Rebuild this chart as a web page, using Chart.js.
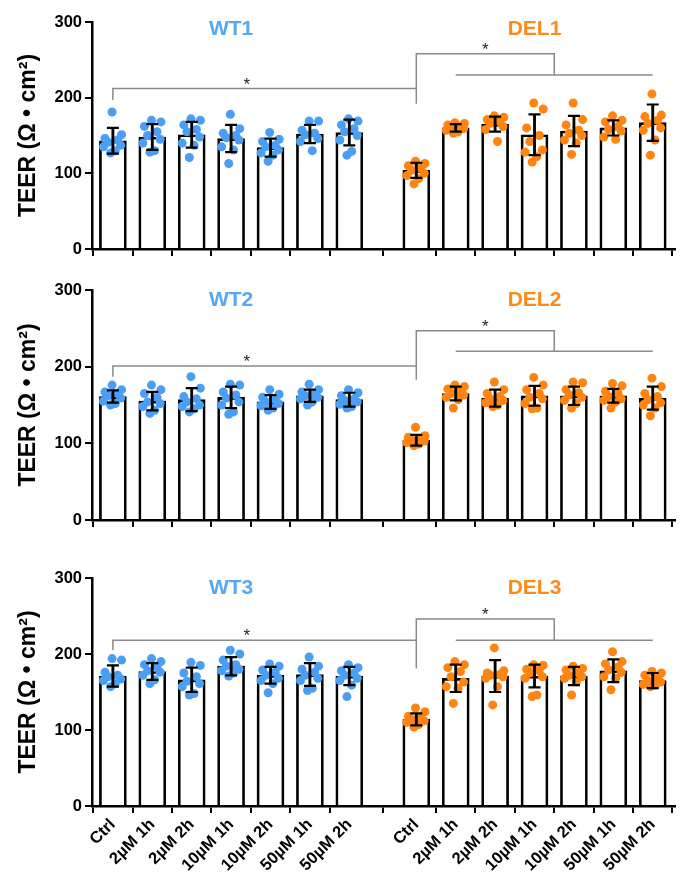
<!DOCTYPE html>
<html><head><meta charset="utf-8">
<script src="https://cdn.jsdelivr.net/npm/chart.js@4.4.1/dist/chart.umd.min.js"></script>
<style>
html,body{margin:0;padding:0;background:#fff;}
#wrap{position:relative;width:683px;height:886px;background:#fff;}
canvas{position:absolute;left:0;}
</style></head><body>
<div id="wrap">
<canvas id="c1" width="683" height="270" style="top:0px"></canvas>
<canvas id="c2" width="683" height="270" style="top:270px"></canvas>
<canvas id="c3" width="683" height="346" style="top:540px"></canvas>
</div>
<script>
// ---------- DATA ----------
const categories = ['Ctrl','2µM 1h','2µM 2h','10µM 1h','10µM 2h','50µM 1h','50µM 2h'];
const yTicks = [0, 100, 200, 300];
const groupTitles = [['WT1','DEL1'],['WT2','DEL2'],['WT3','DEL3']];

const wt1Mean = [143,148,151,146,134,152,154];
const wt1Sd   = [17,17,17,18,12,12,17];
const wt1Pts  = [
  [181,151,146,144,141,137,135,130,127],
  [170,168,162,155,150,145,140,130,128],
  [172,170,164,158,155,148,140,137,121],
  [178,159,153,150,147,144,135,131,113],
  [154,145,142,137,135,131,127,124,116],
  [169,169,157,153,151,146,142,130],
  [172,169,164,159,155,150,144,129,124]];
const del1Mean = [104,160,165,151,156,160,167];
const del1Sd   = [10,5,10,27,20,10,24];
const del1Pts  = [
  [116,113,110,107,104,100,97,93,86],
  [167,166,164,162,160,159,157,155,153],
  [176,174,171,168,166,162,158,142],
  [193,185,160,150,142,131,128,122,115],
  [193,171,164,157,153,150,144,140,125],
  [176,170,168,162,158,156,148,145],
  [205,177,175,170,166,160,157,144,124]];

const wt2Mean = [161,155,157,160,154,162,157];
const wt2Sd   = [8,12,15,14,9,8,9];
const wt2Pts  = [
  [176,170,167,165,162,159,155,152,150],
  [176,170,165,160,154,152,148,143,139],
  [187,172,161,158,154,150,148,145,141],
  [177,176,167,163,159,154,150,141,138],
  [170,164,160,157,154,152,149,146,143],
  [177,170,167,164,162,160,158,154,150],
  [170,166,162,158,156,154,151,148,146]];
const del2Mean = [104,165,159,162,162,162,159];
const del2Sd   = [7,9,11,13,12,9,15];
const del2Pts  = [
  [121,110,108,106,104,103,101,99,97],
  [176,174,171,167,165,163,160,157,146],
  [180,170,165,161,158,156,153,150,148],
  [186,176,170,165,160,158,152,146,145],
  [180,179,170,166,163,160,156,152,146],
  [178,175,168,165,161,158,156,154,146],
  [185,174,165,161,157,153,150,146,136]];

const wt3Mean = [171,177,166,184,172,173,171];
const wt3Sd   = [14,11,16,12,11,15,12];
const wt3Pts  = [
  [194,192,176,172,170,167,165,161,157],
  [194,190,186,183,178,176,172,166,161],
  [189,185,175,170,164,161,157,148,146],
  [205,200,192,186,184,180,178,175,171],
  [187,184,179,176,172,168,165,161,149],
  [196,184,180,176,172,168,165,155,152],
  [186,182,178,175,172,168,165,159,144]];
const del3Mean = [114,168,171,171,171,178,165];
const del3Sd   = [8,18,21,15,12,15,10];
const del3Pts  = [
  [129,124,118,116,114,112,110,107,104],
  [190,186,182,177,170,163,157,155,135],
  [208,178,175,173,172,170,168,157,133],
  [186,185,180,178,175,170,168,146,144],
  [184,181,179,175,172,170,168,163,146],
  [203,190,187,183,179,176,170,168,153],
  [177,175,172,168,165,163,160,159,157]];

// significance bracket levels (TEER units): [wtLine, wtDrop, delTop, delDrop, subLine]
const sig1 = [212,197,258,192,230];
const sig2 = [201,187,247,183,220];
const sig3 = [218,205,246,181,218];
const titleLevels = [291, 287, 287];

// ---------- LAYOUT / STYLE ----------
const FONT = '"Liberation Sans", Arial, Helvetica, sans-serif';
const BLUE = '#4a9ff5', ORANGE = '#ff8410';
const BLUE_T = '#55a8f6', ORANGE_T = '#ff8a1c';
const wtPos  = [0,1,2,3,4,5,6];
const delPos = [7.7,8.7,9.7,10.7,11.7,12.7,13.7];
const allPos = wtPos.concat(delPos);
const jitter = [-0.02, 0.22, -0.2, 0.12, -0.12, 0.2, -0.24, 0.06, -0.06];

function labelFor(v){
  const i = allPos.findIndex(p => Math.abs(p - v) < 1e-6);
  return i < 0 ? '' : categories[i % 7];
}

const annot = {
  id: 'annot',
  afterDatasetsDraw(chart, args, o){
    const {ctx} = chart; const x = chart.scales.x, y = chart.scales.y;
    ctx.save();
    ctx.textAlign = 'center'; ctx.textBaseline = 'middle';
    ctx.font = 'bold 21px ' + FONT;
    ctx.fillStyle = BLUE_T;
    ctx.fillText(o.names[0], x.getPixelForValue(3), y.getPixelForValue(o.titleY));
    ctx.fillStyle = ORANGE_T;
    ctx.fillText(o.names[1], x.getPixelForValue(10.7), y.getPixelForValue(o.titleY));
    ctx.font = '17px ' + FONT; ctx.fillStyle = '#222'; ctx.textBaseline = 'alphabetic';
    ctx.fillText('*', x.getPixelForValue(3.4), y.getPixelForValue(o.sig[0]) + 1);
    ctx.fillText('*', x.getPixelForValue(9.45), y.getPixelForValue(o.sig[2]) + 1);
    ctx.restore();
  }
};

function build(id, padTop, xH, names, wm, ws, wp, dm, ds, dp, sig, titleY, showLabels){
  const means = wm.concat(dm), sds = ws.concat(ds);
  const pts = (grp, pos) => grp.flatMap((arr, i) => arr.map((v, k) => ({x: pos[i] + jitter[k % jitter.length], y: v})));
  const caps = allPos.flatMap((p, i) => [{x:p, y:means[i]-sds[i]}, {x:p, y:means[i]+sds[i]}]);
  const gray = '#8a8a8a';
  const bracket = (data) => ({type:'line', data, borderColor:gray, borderWidth:1.5, pointRadius:0, fill:false, tension:0, order:0});
  new Chart(document.getElementById(id), {
    type: 'bar',
    data: { datasets: [
      {type:'bar', data: allPos.map((p,i)=>({x:p, y:means[i]})), backgroundColor:'#fff', borderColor:'#000', borderWidth:2.7, barThickness:27, grouped:false, order:5},
      {type:'scatter', data: pts(wp, wtPos), backgroundColor:BLUE, borderWidth:0, pointRadius:4.5, order:4},
      {type:'scatter', data: pts(dp, delPos), backgroundColor:ORANGE, borderWidth:0, pointRadius:4.5, order:4},
      {type:'bar', data: allPos.map((p,i)=>({x:p, y:[means[i]-sds[i], means[i]+sds[i]]})), backgroundColor:'#000', borderWidth:0, barThickness:2.2, grouped:false, order:2},
      {type:'scatter', data: caps, pointStyle:'line', pointRadius:6, borderColor:'#000', borderWidth:2.2, order:1},
      bracket([{x:0,y:sig[1]},{x:0,y:sig[0]},{x:7.7,y:sig[0]}]),
      bracket([{x:7.7,y:sig[3]},{x:7.7,y:sig[2]},{x:11.2,y:sig[2]},{x:11.2,y:sig[4]}]),
      bracket([{x:8.7,y:sig[4]},{x:13.7,y:sig[4]}])
    ]},
    options: {
      responsive:false, animation:false, events:[],
      layout:{padding:{top:padTop, left:0, right:8, bottom:0}},
      plugins:{legend:{display:false}, tooltip:{enabled:false}, annot:{names, sig, titleY}},
      scales:{
        x:{type:'linear', min:-0.53, max:14.26, offset:false,
          afterBuildTicks: s => { s.ticks = allPos.map(v => ({value:v})); },
          ticks:{autoSkip:false, minRotation:45, maxRotation:45, color:'#000', padding:2,
            font:{family:FONT, weight:'bold', size:16.5},
            callback: v => showLabels ? labelFor(v) : ''},
          grid:{display:true, drawOnChartArea:false, drawTicks:true, tickLength:7, color:'#000', lineWidth:2},
          border:{display:true, color:'#000', width:2.5},
          afterFit: s => { s.height = xH; }
        },
        y:{min:0, max:300,
          afterBuildTicks: s => { s.ticks = yTicks.map(v => ({value:v})); },
          ticks:{color:'#000', padding:3, font:{family:FONT, weight:'bold', size:16.5}},
          grid:{display:true, drawOnChartArea:false, drawTicks:true, tickLength:7, color:'#000', lineWidth:2},
          border:{display:true, color:'#000', width:2.5},
          title:{display:true, text:'TEER (Ω • cm²)', color:'#000', font:{family:FONT, weight:'bold', size:23}, padding:{top:15, bottom:0}},
          afterFit: s => { s.width = 92; }
        }
      }
    },
    plugins:[annot]
  });
}

build('c1', 22, 21, groupTitles[0], wt1Mean, wt1Sd, wt1Pts, del1Mean, del1Sd, del1Pts, sig1, titleLevels[0], false);
build('c2', 20, 20, groupTitles[1], wt2Mean, wt2Sd, wt2Pts, del2Mean, del2Sd, del2Pts, sig2, titleLevels[1], false);
build('c3', 38, 80, groupTitles[2], wt3Mean, wt3Sd, wt3Pts, del3Mean, del3Sd, del3Pts, sig3, titleLevels[2], true);
</script>
</body></html>
